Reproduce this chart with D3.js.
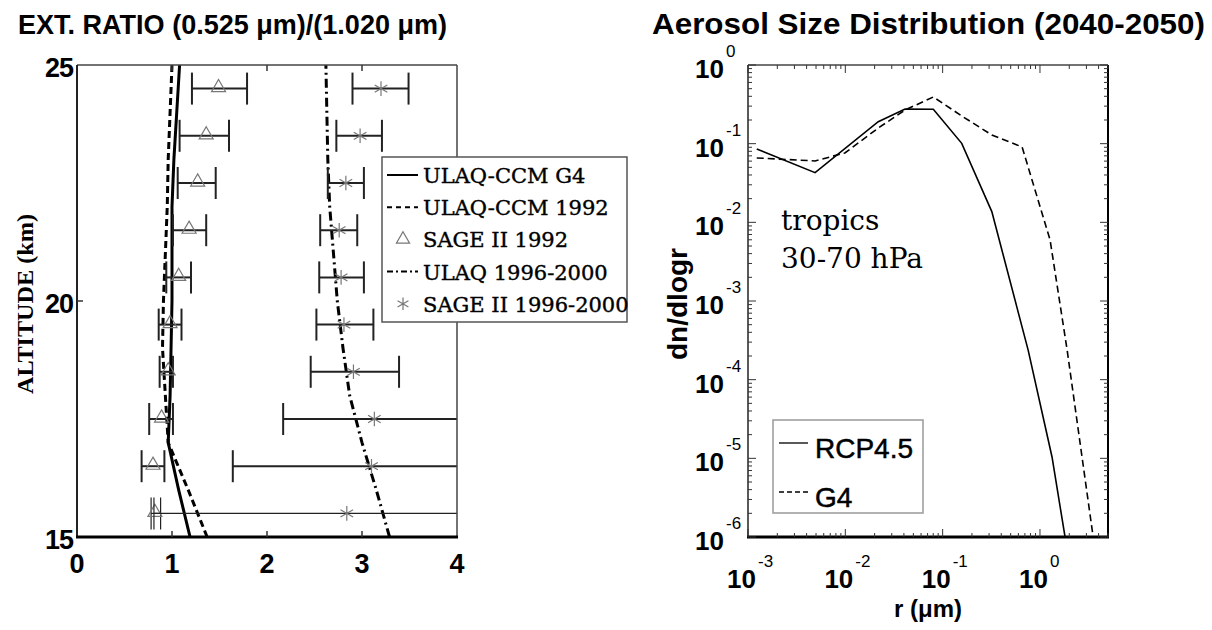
<!DOCTYPE html>
<html>
<head>
<meta charset="utf-8">
<script src="https://cdn.jsdelivr.net/npm/d3@7"></script>
<style>
	body { margin: 0; background: white; }
	text { fill: black; }
</style>
</head>
<body>
<svg id="chart" width="1212" height="630"></svg>
<script>
/**
 * Two panels: extinction ratio profiles (left) and aerosol size distribution (right)
 */

/* Left panel data: model profiles on whole km, SAGE II points on half km */
var altitudes = [15, 16, 17, 18, 19, 20, 21, 22, 23, 24, 25]
var ulaqG4 = [1.19, 1.07, 0.96, 0.98, 0.99, 1.0, 1.0, 1.0, 1.02, 1.05, 1.08]
var ulaq1992 = [1.37, 1.17, 0.96, 0.93, 0.9, 0.91, 0.93, 0.95, 0.96, 0.98, 1.0]
var ulaq9600 = [3.29, 3.15, 3.0, 2.87, 2.8, 2.74, 2.7, 2.66, 2.64, 2.63, 2.62]

var sageAlt = [15.5, 16.5, 17.5, 18.5, 19.5, 20.5, 21.5, 22.5, 23.5, 24.5]
var sage92 = [0.82, 0.8, 0.89, 0.96, 0.98, 1.07, 1.18, 1.27, 1.36, 1.49]
var sage92Lo = [0.78, 0.68, 0.76, 0.87, 0.86, 0.94, 1.01, 1.06, 1.08, 1.21]
var sage92Hi = [0.88, 0.92, 1.01, 1.01, 1.1, 1.2, 1.36, 1.46, 1.6, 1.79]
var sage9600 = [2.84, 3.1, 3.13, 2.91, 2.81, 2.78, 2.76, 2.83, 2.98, 3.2]
var sage9600Lo = [0.81, 1.64, 2.17, 2.46, 2.52, 2.55, 2.56, 2.64, 2.73, 2.9]
var sage9600Hi = [4.6, 4.6, 4.6, 3.39, 3.12, 3.02, 2.95, 3.02, 3.21, 3.49]

var leftXTicks = [0, 1, 2, 3, 4]
var leftYTicks = [15, 20, 25]
var leftLegend = ['ULAQ-CCM G4', 'ULAQ-CCM 1992', 'SAGE II 1992', 'ULAQ 1996-2000', 'SAGE II 1996-2000']

/* Right panel data: size distributions */
var rcpR = [0.00123, 0.00489, 0.0218, 0.0411, 0.0802, 0.157, 0.32, 0.755, 1.33, 1.81]
var rcpN = [0.0857, 0.0428, 0.19, 0.276, 0.274, 0.101, 0.0137, 0.000239, 0.0000104, 0.000001]
var g4R = [0.00123, 0.00489, 0.0099, 0.0218, 0.0411, 0.0802, 0.157, 0.32, 0.655, 1.27, 1.9, 3.52]
var g4N = [0.0658, 0.0603, 0.0762, 0.158, 0.268, 0.392, 0.225, 0.129, 0.0908, 0.00597, 0.00024, 0.000001]

var rightXTicks = [-3, -2, -1, 0]
var rightYTicks = [-6, -5, -4, -3, -2, -1, 0]
var rightLegend = ['RCP4.5', 'G4']

var svg = d3.select('#chart')
var sans = 'Liberation Sans, Arial, sans-serif'
var serif = 'DejaVu Serif, serif'

svg.append('rect').attr('width', 1212).attr('height', 630).style('fill', 'white')

/* ---------- left panel ---------- */
var xL = d3.scaleLinear().domain([0, 4]).range([77, 457])
var yL = d3.scaleLinear().domain([15, 25]).range([537, 65])

svg.append('clipPath').attr('id', 'clipL').append('rect')
	.attr('x', xL(0)).attr('y', yL(25)).attr('width', xL(4) - xL(0)).attr('height', yL(15) - yL(25))

var left = svg.append('g')
var plotL = left.append('g').attr('clip-path', 'url(#clipL)')

function profile(values) {
	return d3.line()
		.x(function(d, i) { return xL(d) })
		.y(function(d, i) { return yL(altitudes[i]) })(values)
}

plotL.append('path').attr('d', profile(ulaqG4))
	.style('fill', 'none').style('stroke', 'black').style('stroke-width', 3)
plotL.append('path').attr('d', profile(ulaq1992))
	.style('fill', 'none').style('stroke', 'black').style('stroke-width', 3).style('stroke-dasharray', '7,4')
plotL.append('path').attr('d', profile(ulaq9600))
	.style('fill', 'none').style('stroke', 'black').style('stroke-width', 3).style('stroke-dasharray', '9,4,2,4')

/* Horizontal error bars with tall end caps */
function errorBars(lo, hi, mid, symbol) {
	var g = plotL.append('g')
	sageAlt.forEach(function(a, i) {
		var y = yL(a)
		var w = i == 0 ? 1.2 : 2
		g.append('line').attr('x1', xL(lo[i])).attr('x2', xL(hi[i])).attr('y1', y).attr('y2', y)
			.style('stroke', '#222').style('stroke-width', w)
		;[lo[i], hi[i]].forEach(function(v) {
			g.append('line').attr('x1', xL(v)).attr('x2', xL(v)).attr('y1', y - 16).attr('y2', y + 16)
				.style('stroke', '#222').style('stroke-width', w)
		})
		g.append('path').attr('d', d3.symbol().type(symbol).size(symbol == d3.symbolTriangle ? 85 : 150)())
			.attr('transform', 'translate(' + xL(mid[i]) + ',' + (y - (symbol == d3.symbolTriangle ? 1 : 0)) + ')')
			.style('fill', 'none').style('stroke', '#777').style('stroke-width', 1.2)
	})
}
errorBars(sage92Lo, sage92Hi, sage92, d3.symbolTriangle)
errorBars(sage9600Lo, sage9600Hi, sage9600, d3.symbolAsterisk)

/* Frame and inward ticks */
left.append('line').attr('x1', 77).attr('x2', 457).attr('y1', 65).attr('y2', 65).style('stroke', '#444').style('stroke-width', 1.5)
left.append('line').attr('x1', 457).attr('x2', 457).attr('y1', 65).attr('y2', 537).style('stroke', '#444').style('stroke-width', 1.5)
left.append('line').attr('x1', 77).attr('x2', 77).attr('y1', 65).attr('y2', 537).style('stroke', '#222').style('stroke-width', 2)
left.append('line').attr('x1', 76).attr('x2', 458).attr('y1', 537).attr('y2', 537).style('stroke', 'black').style('stroke-width', 3)

leftXTicks.slice(1, 4).forEach(function(t) {
	left.append('line').attr('x1', xL(t)).attr('x2', xL(t)).attr('y1', 537).attr('y2', 531).style('stroke', '#333').style('stroke-width', 1.5)
	left.append('line').attr('x1', xL(t)).attr('x2', xL(t)).attr('y1', 65).attr('y2', 71).style('stroke', '#333').style('stroke-width', 1.5)
})
left.append('line').attr('x1', 77).attr('x2', 83).attr('y1', yL(20)).attr('y2', yL(20)).style('stroke', '#333').style('stroke-width', 1.5)

left.selectAll('.xl').data(leftXTicks).enter().append('text')
	.attr('x', function(d) { return xL(d) }).attr('y', 573)
	.attr('text-anchor', 'middle')
	.style('font-family', sans).style('font-weight', 'bold').style('font-size', '27px')
	.text(function(d) { return d })

left.selectAll('.yl').data(leftYTicks).enter().append('text')
	.attr('x', 73).attr('y', function(d) { return yL(d) + 12 })
	.attr('text-anchor', 'end')
	.style('font-family', sans).style('font-weight', 'bold').style('font-size', '27px')
	.style('letter-spacing', '-1px')
	.text(function(d) { return d })

left.append('text').attr('transform', 'translate(33,304) rotate(-90)')
	.attr('text-anchor', 'middle').attr('textLength', 180).attr('lengthAdjust', 'spacingAndGlyphs')
	.style('font-family', 'Liberation Serif, serif').style('font-weight', 'bold').style('font-size', '23px')
	.text('ALTITUDE (km)')

left.append('text').attr('x', 18).attr('y', 34)
	.attr('textLength', 429).attr('lengthAdjust', 'spacingAndGlyphs')
	.style('font-family', sans).style('font-weight', 'bold').style('font-size', '28px')
	.text('EXT. RATIO (0.525 μm)/(1.020 μm)')

/* Left legend */
var legL = svg.append('g')
legL.append('rect').attr('x', 382).attr('y', 157).attr('width', 245).attr('height', 165)
	.style('fill', 'white').style('stroke', '#555').style('stroke-width', 1.5)
var legStyles = [
	{ dash: null }, { dash: '5,4' }, { symbol: d3.symbolTriangle }, { dash: '6,3,2,3' }, { symbol: d3.symbolAsterisk }
]
leftLegend.forEach(function(name, i) {
	var y = 175 + i * 32.2
	var s = legStyles[i]
	if (s.symbol) {
		legL.append('path').attr('d', d3.symbol().type(s.symbol).size(s.symbol == d3.symbolTriangle ? 75 : 110)())
			.attr('transform', 'translate(403,' + y + ')')
			.style('fill', 'none').style('stroke', '#777').style('stroke-width', 1.2)
	} else {
		legL.append('line').attr('x1', 387).attr('x2', 418).attr('y1', y).attr('y2', y)
			.style('stroke', 'black').style('stroke-width', 2).style('stroke-dasharray', s.dash)
	}
	legL.append('text').attr('x', 423).attr('y', y + 8)
		.style('font-family', serif).style('font-size', '21px')
		.style('stroke', 'black').style('stroke-width', 0.4)
		.text(name)
})

/* ---------- right panel ---------- */
var xR = d3.scaleLog().domain([1e-3, 5]).range([748, 1108])
var yR = d3.scaleLog().domain([1e-6, 1]).range([537, 65])

svg.append('clipPath').attr('id', 'clipR').append('rect')
	.attr('x', 748).attr('y', 65).attr('width', 360).attr('height', 472)

var right = svg.append('g')
var plotR = right.append('g').attr('clip-path', 'url(#clipR)')

var sizeLine = d3.line()
	.x(function(d) { return xR(d[0]) })
	.y(function(d) { return yR(d[1]) })

plotR.append('path').attr('d', sizeLine(d3.zip(rcpR, rcpN)))
	.style('fill', 'none').style('stroke', 'black').style('stroke-width', 1.6)
plotR.append('path').attr('d', sizeLine(d3.zip(g4R, g4N)))
	.style('fill', 'none').style('stroke', 'black').style('stroke-width', 1.6).style('stroke-dasharray', '7,4')

/* Frame */
right.append('line').attr('x1', 748).attr('x2', 1108).attr('y1', 65).attr('y2', 65).style('stroke', '#444').style('stroke-width', 1.5)
right.append('line').attr('x1', 748).attr('x2', 748).attr('y1', 65).attr('y2', 537).style('stroke', '#222').style('stroke-width', 1.5)
right.append('line').attr('x1', 1108).attr('x2', 1108).attr('y1', 65).attr('y2', 537).style('stroke', 'black').style('stroke-width', 2)
right.append('line').attr('x1', 747).attr('x2', 1109).attr('y1', 537).attr('y2', 537).style('stroke', 'black').style('stroke-width', 3)

/* Log ticks, major and minor, pointing inwards on all sides */
function logTicks(lo, hi) {
	var ticks = []
	for (var e = lo; e <= hi; e++) {
		for (var m = 1; m < 10; m++) ticks.push({ v: m * Math.pow(10, e), major: m == 1 })
	}
	return ticks
}
logTicks(-3, 0).filter(function(t) { return t.v <= 5 }).forEach(function(t) {
	var x = xR(t.v), len = t.major ? 8 : 4
	right.append('line').attr('x1', x).attr('x2', x).attr('y1', 537).attr('y2', 537 - len).style('stroke', '#333').style('stroke-width', 1)
	right.append('line').attr('x1', x).attr('x2', x).attr('y1', 65).attr('y2', 65 + len).style('stroke', '#333').style('stroke-width', 1)
})
logTicks(-6, 0).filter(function(t) { return t.v <= 1 }).forEach(function(t) {
	var y = yR(t.v), len = t.major ? 8 : 4
	right.append('line').attr('x1', 748).attr('x2', 748 + len).attr('y1', y).attr('y2', y).style('stroke', '#333').style('stroke-width', 1)
	right.append('line').attr('x1', 1108).attr('x2', 1108 - len).attr('y1', y).attr('y2', y).style('stroke', '#333').style('stroke-width', 1)
})

/* Power-of-ten tick labels */
function powerLabel(g, x, y, exp) {
	g.append('text').attr('x', x).attr('y', y).attr('text-anchor', 'end')
		.style('font-family', sans).style('font-weight', 'bold').style('font-size', '26px')
		.text('10')
	g.append('text').attr('x', x + 2).attr('y', y - 21)
		.style('font-family', sans).style('font-size', '17px')
		.text(exp)
}
rightXTicks.forEach(function(e) { powerLabel(right, xR(Math.pow(10, e)) + 8, 588, e) })
rightYTicks.forEach(function(e) { powerLabel(right, 724, yR(Math.pow(10, e)) + 13, e) })

right.append('text').attr('x', 928).attr('y', 617).attr('text-anchor', 'middle')
	.style('font-family', sans).style('font-weight', 'bold').style('font-size', '24px')
	.text('r (μm)')

right.append('text').attr('transform', 'translate(687,304) rotate(-90)').attr('text-anchor', 'middle')
	.style('font-family', sans).style('font-weight', 'bold').style('font-size', '28px')
	.text('dn/dlogr')

right.append('text').attr('x', 652).attr('y', 34)
	.attr('textLength', 553).attr('lengthAdjust', 'spacingAndGlyphs')
	.style('font-family', sans).style('font-weight', 'bold').style('font-size', '29px')
	.text('Aerosol Size Distribution (2040-2050)')

right.append('text').attr('x', 781).attr('y', 230)
	.style('font-family', serif).style('font-size', '28px').text('tropics')
right.append('text').attr('x', 781).attr('y', 268)
	.style('font-family', serif).style('font-size', '28px').text('30-70 hPa')

/* Right legend */
var legR = svg.append('g')
legR.append('rect').attr('x', 773).attr('y', 420).attr('width', 150).attr('height', 93)
	.style('fill', 'white').style('stroke', '#999').style('stroke-width', 1.5)
rightLegend.forEach(function(name, i) {
	var y = 443 + i * 49
	legR.append('line').attr('x1', 779).attr('x2', 808).attr('y1', y).attr('y2', y)
		.style('stroke', 'black').style('stroke-width', 1.3).style('stroke-dasharray', i == 1 ? '5,3' : null)
	legR.append('text').attr('x', 815).attr('y', y + 15)
		.style('font-family', sans).style('font-size', '28px')
		.style('stroke', 'black').style('stroke-width', 0.5)
		.text(name)
})
</script>
</body>
</html>
